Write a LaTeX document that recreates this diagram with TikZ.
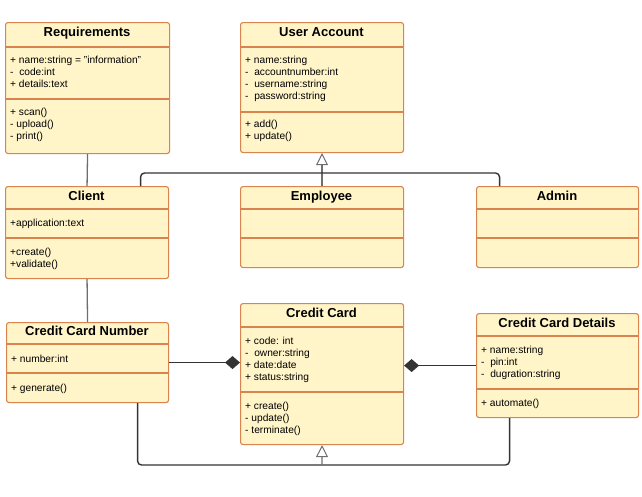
\documentclass[tikz,border=0pt]{standalone}
\usepackage{fontspec}
\setmainfont{Liberation Sans}
\usetikzlibrary{arrows.meta}
\definecolor{boxfill}{HTML}{FFF5C9}
\definecolor{boxline}{HTML}{D9844E}
\definecolor{conn}{HTML}{333333}
\definecolor{connlight}{HTML}{6E6E6E}
\begin{document}
\begin{tikzpicture}[x=1pt,y=-1pt,
  cls/.style={draw=boxline, fill=boxfill, line width=1.1pt, rounded corners=2.5pt, anchor=north west, inner sep=0pt},
  div/.style={draw=boxline, line width=1.1pt},
  ttl/.style={font=\fontsize{13}{15}\selectfont\bfseries, anchor=base, inner sep=0pt},
  txt/.style={font=\fontsize{10.2}{12.2}\selectfont, align=left, anchor=north west, inner sep=0pt},
  link/.style={draw=conn, line width=1.4pt},
  lightlink/.style={draw=connlight, line width=1.3pt},
  gen/.style={-{Triangle[open, length=12pt, width=12pt, line width=1pt]}},
  comp/.style={-{Diamond[length=15pt, width=13pt]}}
]
\useasboundingbox (0,0) rectangle (642,496);

% ---------- Requirements
\node[cls, minimum width=164pt, minimum height=131pt] (req) at (5,22) {};
\draw[div] (5,47) -- (169,47);
\draw[div] (5,99) -- (169,99);
\node[ttl] (reqt) at (87,36.7) {Requirements};
\node[txt] (reqa) at (10,55.5) {+ name:string = "information"\\-\ \ code:int\\+ details:text};
\node[txt] (reqm) at (10,107.5) {+ scan()\\- upload()\\- print()};

% ---------- User Account
\node[cls, minimum width=163pt, minimum height=130pt] (ua) at (240,22) {};
\draw[div] (240,47) -- (403,47);
\draw[div] (240,112) -- (403,112);
\node[ttl] (uat) at (321.5,36.7) {User Account};
\node[txt] (uaa) at (245,55.5) {+ name:string\\-\ \ accountnumber:int\\-\ \ username:string\\-\ \ password:string};
\node[txt] (uam) at (245,119.5) {+ add()\\+ update()};

% ---------- Client
\node[cls, minimum width=163pt, minimum height=92pt] (client) at (5,186) {};
\draw[div] (5,209) -- (168,209);
\draw[div] (5,238) -- (168,238);
\node[ttl] (clientt) at (86.5,200.7) {Client};
\node[txt] (clienta) at (10,218.5) {+application:text};
\node[txt] (clientm) at (10,247.5) {+create()\\+validate()};

% ---------- Employee
\node[cls, minimum width=163pt, minimum height=81pt] (emp) at (240,186) {};
\draw[div] (240,209) -- (403,209);
\draw[div] (240,238) -- (403,238);
\node[ttl] (empt) at (321.5,200.7) {Employee};

% ---------- Admin
\node[cls, minimum width=162pt, minimum height=81pt] (admin) at (476,186) {};
\draw[div] (476,209) -- (638,209);
\draw[div] (476,238) -- (638,238);
\node[ttl] (admint) at (557,200.7) {Admin};

% ---------- Credit Card Number
\node[cls, minimum width=162pt, minimum height=80pt] (ccn) at (6,322) {};
\draw[div] (6,344) -- (168,344);
\draw[div] (6,373) -- (168,373);
\node[ttl] (ccnt) at (87,335.7) {Credit Card Number};
\node[txt] (ccna) at (11,354.5) {+ number:int};
\node[txt] (ccnm) at (11,383.5) {+ generate()};

% ---------- Credit Card
\node[cls, minimum width=163pt, minimum height=141pt] (cc) at (240,303) {};
\draw[div] (240,327) -- (403,327);
\draw[div] (240,392) -- (403,392);
\node[ttl] (cct) at (321.5,317.7) {Credit Card};
\node[txt] (cca) at (245,336.5) {+ code: int\\-\ \ owner:string\\+ date:date\\+ status:string};
\node[txt] (ccm) at (245,401.5) {+ create()\\- update()\\- terminate()};

% ---------- Credit Card Details
\node[cls, minimum width=162pt, minimum height=104pt] (ccd) at (476,313) {};
\draw[div] (476,336) -- (638,336);
\draw[div] (476,389) -- (638,389);
\node[ttl] (ccdt) at (557,327.7) {Credit Card Details};
\node[txt] (ccda) at (481,345.5) {+ name:string\\-\ \ pin:int\\-\ \ dugration:string};
\node[txt] (ccdm) at (481,398.5) {+ automate()};

% ---------- connectors
\coordinate (gbar) at (322,173);
\coordinate (gbot) at (322,465);

\draw[lightlink] (req.south) -- (client.north);
\draw[lightlink] (client.south) -- (ccn.north);

\draw[lightlink, gen] (emp.north) -- (ua.south);
\draw[link, rounded corners=4pt] ([xshift=53.5pt]client.north) |- (gbar) -| ([xshift=-58pt]admin.north);

\draw[link, comp] (ccn.east) -- (ccn.east -| cc.west);
\draw[link, comp] (ccd.west) -- (ccd.west -| cc.east);

\draw[link, rounded corners=4pt] ([xshift=50pt]ccn.south) |- (gbot) -| ([xshift=-48pt]ccd.south);
\draw[lightlink, gen] (gbot) -- (cc.south);
\end{tikzpicture}
\end{document}
